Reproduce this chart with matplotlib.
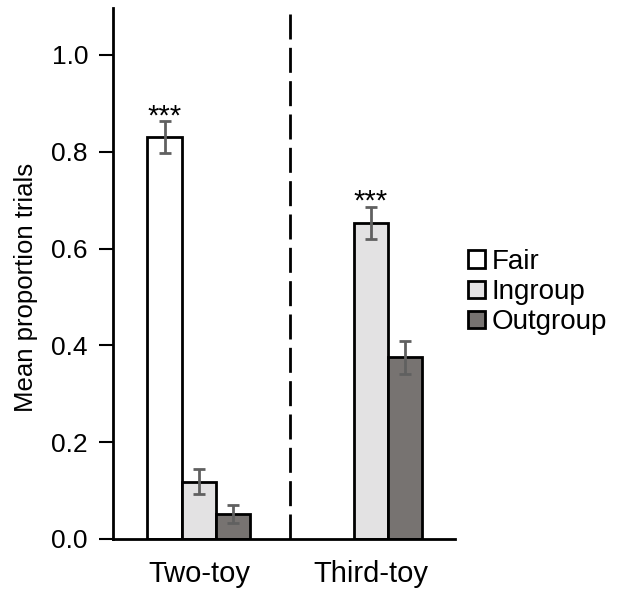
import matplotlib.pyplot as plt
import numpy as np
from matplotlib.patches import Patch

plt.rcParams['font.family'] = ['Liberation Sans', 'DejaVu Sans']

conditions = ['Two-toy', 'Third-toy']
series = ['Fair', 'Ingroup', 'Outgroup']
fair = [0.83, np.nan]
ingroup = [0.118, 0.653]
outgroup = [0.052, 0.375]
fair_err = [0.033, np.nan]
ingroup_err = [0.026, 0.033]
outgroup_err = [0.019, 0.035]
stars = [('***', 0, 0.83 + 0.033), ('***', 1, 0.653 + 0.033)]  # (text, group, top)

colors = ['#ffffff', '#e3e2e3', '#777371']

fig = plt.figure(figsize=(6.17, 5.98), dpi=100)
ax = fig.add_axes([113 / 617, 59 / 598, 342 / 617, 531 / 598])

x = np.arange(len(conditions))
w = 0.2
vals = [fair, ingroup, outgroup]
errs = [fair_err, ingroup_err, outgroup_err]
for i, (v, e, c) in enumerate(zip(vals, errs, colors)):
    ax.bar(x + (i - 1) * w, v, w, color=c, edgecolor='black', linewidth=2,
           yerr=e, error_kw=dict(ecolor='#606060', elinewidth=2, capsize=4.5, capthick=2),
           zorder=2)

for s, g, top in stars:
    gx = g - w if g == 0 else g
    ax.text(gx, top - 0.006, s, ha='center', va='baseline', fontsize=21)

ax.axvline(0.53, color='black', linestyle=(0, (9, 3)), linewidth=2)

ax.set_xlim(-0.5, 1.49)
ax.set_ylim(0, 1.097)
ax.set_yticks([0, 0.2, 0.4, 0.6, 0.8, 1.0])
ax.set_yticklabels(['0.0', '0.2', '0.4', '0.6', '0.8', '1.0'])
ax.set_xticks(x)
ax.set_xticklabels(conditions)
ax.tick_params(axis='y', labelsize=19, length=10, width=1.5, pad=8)
ax.tick_params(axis='x', labelsize=21, length=0, pad=15)
for side in ['top', 'right']:
    ax.spines[side].set_visible(False)
for side in ['left', 'bottom']:
    ax.spines[side].set_linewidth(2)
ax.set_ylabel('Mean proportion trials', fontsize=18.5)
ax.yaxis.set_label_coords(-0.22, 0.473)

handles = [Patch(facecolor=c, edgecolor='black', linewidth=2, label=s)
           for c, s in zip(colors, series)]
fig.legend(handles=handles, loc='upper left', bbox_to_anchor=(468 / 617, 1 - 249 / 598),
           frameon=False, fontsize=20, handlelength=0.6, handleheight=0.6,
           handletextpad=0.25, labelspacing=0.15, borderpad=0, borderaxespad=0)

fig.savefig('out.png', dpi=100)
